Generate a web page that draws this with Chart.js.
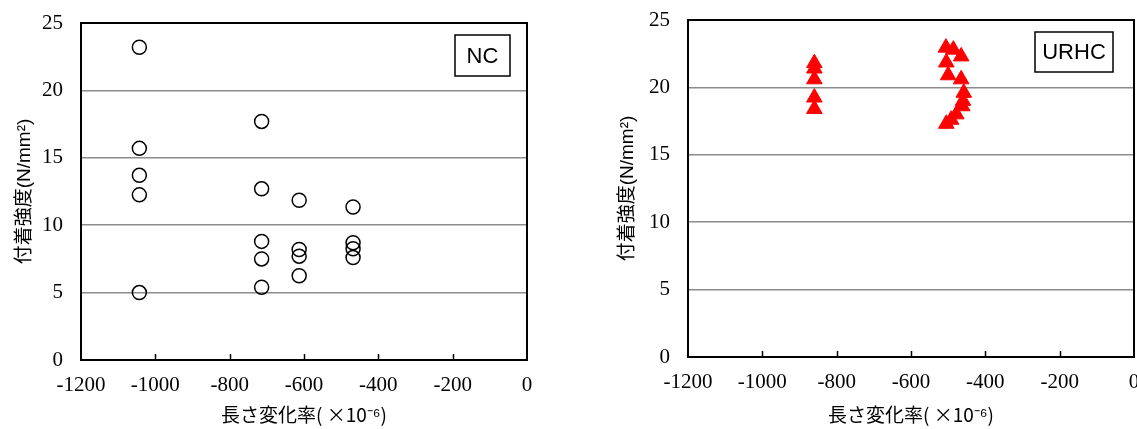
<!DOCTYPE html>
<html><head><meta charset="utf-8">
<script src="https://cdn.jsdelivr.net/npm/chart.js@4/dist/chart.umd.min.js"></script>
<style>
html,body{margin:0;padding:0;background:#fff;overflow:hidden;width:1137px;height:429px;position:relative;}
#c1{position:absolute;left:0;top:0;}
#c2{position:absolute;left:560px;top:0;}
</style></head><body>
<canvas id="c1" width="560" height="429"></canvas>
<canvas id="c2" width="590" height="429"></canvas>
<script>
// ---- data ----
const xTicks = [-1200, -1000, -800, -600, -400, -200, 0];
const yTicks = [0, 5, 10, 15, 20, 25];

const ncX = [-1043, -1043, -1043, -1043, -1043, -714, -714, -714, -714, -714, -613, -613, -613, -613, -468, -468, -468, -468];
const ncY = [23.2, 15.7, 13.7, 12.25, 5.0, 17.7, 12.7, 8.8, 7.5, 5.4, 11.85, 8.2, 7.7, 6.25, 11.35, 8.7, 8.25, 7.6];

const urhcX = [-860, -860, -860, -860, -860, -506, -486, -465, -505, -500, -465, -458, -460, -462, -478, -492, -505];
const urhcY = [21.8, 21.4, 20.6, 19.25, 18.4, 22.95, 22.8, 22.3, 21.85, 20.9, 20.6, 19.6, 19.0, 18.6, 18.0, 17.6, 17.3];

const xTitle = '長さ変化率( ×10⁻⁶)';
const yTitle = '付着強度(N/mm²)';
const labelNC = 'NC';
const labelURHC = 'URHC';

// ---- helpers ----
const toPts = (xs, ys) => xs.map((x, i) => ({x: x, y: ys[i]}));

const framePlugin = {
  id: 'frame',
  afterDraw(chart, args, opts) {
    const {ctx, chartArea: a, scales} = chart;
    ctx.save();
    ctx.strokeStyle = '#000';
    ctx.lineWidth = 1.5;
    xTicks.forEach(v => {
      if (v === xTicks[0] || v === xTicks[xTicks.length - 1]) return;
      const px = Math.round(scales.x.getPixelForValue(v)) + 0.5;
      ctx.beginPath();
      ctx.moveTo(px, a.bottom);
      ctx.lineTo(px, a.bottom - 6);
      ctx.stroke();
    });
    ctx.lineWidth = 2;
    ctx.strokeRect(a.left, a.top, a.right - a.left, a.bottom - a.top);
    const bx = a.right - opts.right - opts.w, by = a.top + opts.top;
    ctx.fillStyle = '#fff';
    ctx.fillRect(bx, by, opts.w, opts.h);
    ctx.lineWidth = 1.5;
    ctx.strokeRect(bx, by, opts.w, opts.h);
    ctx.fillStyle = '#000';
    ctx.font = '22px "Liberation Sans", Arial, sans-serif';
    ctx.textAlign = 'center';
    ctx.textBaseline = 'middle';
    ctx.fillText(opts.text, bx + opts.w / 2, by + opts.h / 2 + 1);
    ctx.restore();
  }
};

function makeChart(id, dataset, cfg) {
  const tickFont = {family: '"Liberation Serif", "Times New Roman", serif', size: 21, lineHeight: 1.2};
  const xTitleFont = {family: '"Noto Sans CJK JP", sans-serif', size: 19, lineHeight: 1.2};
  const yTitleFont = {family: '"Liberation Sans", "Noto Sans CJK JP", sans-serif', size: 19, lineHeight: 1.2};
  return new Chart(document.getElementById(id), {
    type: 'scatter',
    data: {datasets: [dataset]},
    options: {
      responsive: false,
      animation: false,
      devicePixelRatio: 1,
      layout: {padding: {top: cfg.padTop, right: cfg.padRight, left: 0, bottom: 0}},
      plugins: {legend: {display: false}, tooltip: {enabled: false}, frame: cfg.box},
      scales: {
        x: {
          type: 'linear', min: -1200, max: 0,
          afterBuildTicks: s => { s.ticks = xTicks.map(v => ({value: v})); },
          grid: {display: false, drawTicks: false},
          border: {display: false},
          ticks: {font: tickFont, color: '#000', padding: 13, maxRotation: 0, callback: v => String(v)},
          title: {display: true, text: xTitle, font: xTitleFont, color: '#000', padding: {top: 0, bottom: 3}},
          afterFit: s => { s.height = cfg.xHeight; s.paddingLeft = 0; s.paddingRight = 0; }
        },
        y: {
          type: 'linear', min: 0, max: 25,
          afterBuildTicks: s => { s.ticks = yTicks.map(v => ({value: v})); },
          grid: {color: '#8c8c8c', lineWidth: 1.5, drawTicks: false},
          border: {display: false},
          ticks: {font: tickFont, color: '#000', padding: 18, callback: v => String(v)},
          title: {display: true, text: yTitle, font: yTitleFont, color: '#000', padding: {top: cfg.yTitlePad, bottom: 0}},
          afterFit: s => { s.width = cfg.yWidth; s.paddingTop = 0; s.paddingBottom = 0; }
        }
      }
    },
    plugins: [framePlugin]
  });
}

makeChart('c1', {
  data: toPts(ncX, ncY),
  pointStyle: 'circle',
  pointRadius: 7,
  borderWidth: 1.5,
  borderColor: '#000',
  backgroundColor: 'rgba(0,0,0,0)'
}, {padTop: 23, padRight: 33, xHeight: 69, yWidth: 81, yTitlePad: 13,
    box: {text: labelNC, right: 17, top: 12, w: 55, h: 41}});

makeChart('c2', {
  data: toPts(urhcX, urhcY),
  pointStyle: 'triangle',
  pointRadius: 9,
  borderWidth: 1,
  borderColor: '#ff0000',
  backgroundColor: '#ff0000'
}, {padTop: 20, padRight: 16, xHeight: 72, yWidth: 128, yTitlePad: 56,
    box: {text: labelURHC, right: 21, top: 12, w: 78, h: 40}});
</script>
</body></html>
